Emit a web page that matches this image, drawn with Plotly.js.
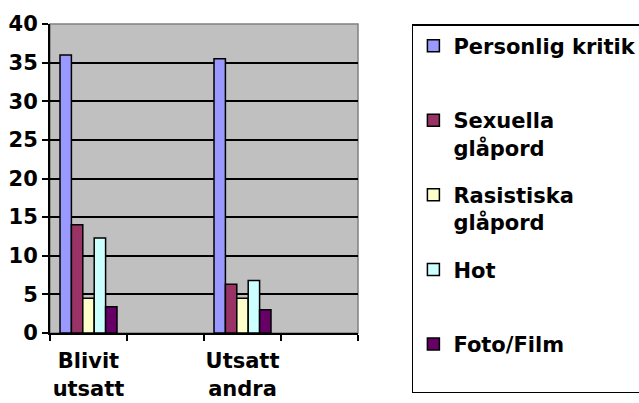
<!DOCTYPE html>
<html>
<head>
<meta charset="utf-8">
<script src="https://cdn.plot.ly/plotly-3.0.1.min.js"></script>
<style>html,body{margin:0;padding:0;background:#fff;}#chart{width:639px;height:403px;}</style>
</head>
<body>
<div id="chart"></div>
<script>
// Categories (two blank slots as in the original Excel chart)
const categories = ["Blivit<br>utsatt", " ", "Utsatt<br>andra", "  "];
// Series names (legend)
const seriesNames = ["Personlig kritik<br>&nbsp;", "Sexuella<br>glåpord", "Rasistiska<br>glåpord", "Hot<br>&nbsp;", "Foto/Film<br>&nbsp;"];
// Series values
const personligKritik   = [36.0, null, 35.5, null];
const sexuellaGlapord   = [14.0, null, 6.3, null];
const rasistiskaGlapord = [4.5, null, 4.5, null];
const hot               = [12.3, null, 6.8, null];
const fotoFilm          = [3.4, null, 3.0, null];
// Y ticks
const yTicks = [0, 5, 10, 15, 20, 25, 30, 35, 40];

const seriesValues = [personligKritik, sexuellaGlapord, rasistiskaGlapord, hot, fotoFilm];
const colors = ["#9999FF", "#993366", "#FFFFCC", "#CCFFFF", "#660066"];

const FONT = "DejaVu Sans, Arial, sans-serif";

const traces = seriesValues.map((vals, i) => ({
  type: "bar",
  name: seriesNames[i],
  x: categories,
  y: vals,
  legendgroup: "g" + i,
  marker: { color: colors[i], line: { color: "#000", width: 1.5 } },
  hoverinfo: "skip"
}));

const layout = {
  width: 639,
  height: 403,
  margin: { l: 50, r: 281, t: 24, b: 70, autoexpand: false },
  paper_bgcolor: "#FFFFFF",
  plot_bgcolor: "#C0C0C0",
  barmode: "group",
  bargap: 0.26,
  bargroupgap: 0,
  font: { family: FONT, size: 21, color: "#000" },
  xaxis: {
    type: "category",
    categoryorder: "array",
    categoryarray: categories,
    range: [-0.5, 3.5],
    tickson: "boundaries",
    tickangle: 0,
    ticks: "outside",
    ticklen: 6,
    tickwidth: 2,
    tickcolor: "#000",
    ticklabelstandoff: 8,
    showline: true,
    linecolor: "#000",
    linewidth: 2,
    showgrid: false,
    zeroline: false,
    automargin: false,
    tickfont: { family: FONT, size: 21, color: "#000", weight: "bold" },
    fixedrange: true
  },
  yaxis: {
    range: [0, 40],
    tickvals: yTicks,
    ticks: "outside",
    ticklen: 6,
    tickwidth: 2,
    tickcolor: "#000",
    showline: true,
    linecolor: "#000",
    linewidth: 2,
    showgrid: true,
    gridcolor: "#000",
    gridwidth: 2,
    zeroline: false,
    automargin: false,
    tickfont: { family: FONT, size: 21, color: "#000", weight: "bold" },
    fixedrange: true
  },
  showlegend: true,
  legend: {
    x: 1.175,
    xanchor: "left",
    y: 1.0,
    yanchor: "top",
    maxheight: 400,
    bgcolor: "#FFFFFF",
    bordercolor: "#000",
    borderwidth: 1.5,
    traceorder: "grouped",
    tracegroupgap: 17,
    valign: "top",
    font: { family: FONT, size: 21, color: "#000", weight: "bold" }
  },
  shapes: [
    { type: "rect", xref: "paper", yref: "paper", x0: 0, x1: 1, y0: 0, y1: 1,
      line: { color: "#808080", width: 1.5 }, layer: "below" }
  ]
};

Plotly.newPlot("chart", traces, layout, { displayModeBar: false, staticPlot: true });
</script>
</body>
</html>
